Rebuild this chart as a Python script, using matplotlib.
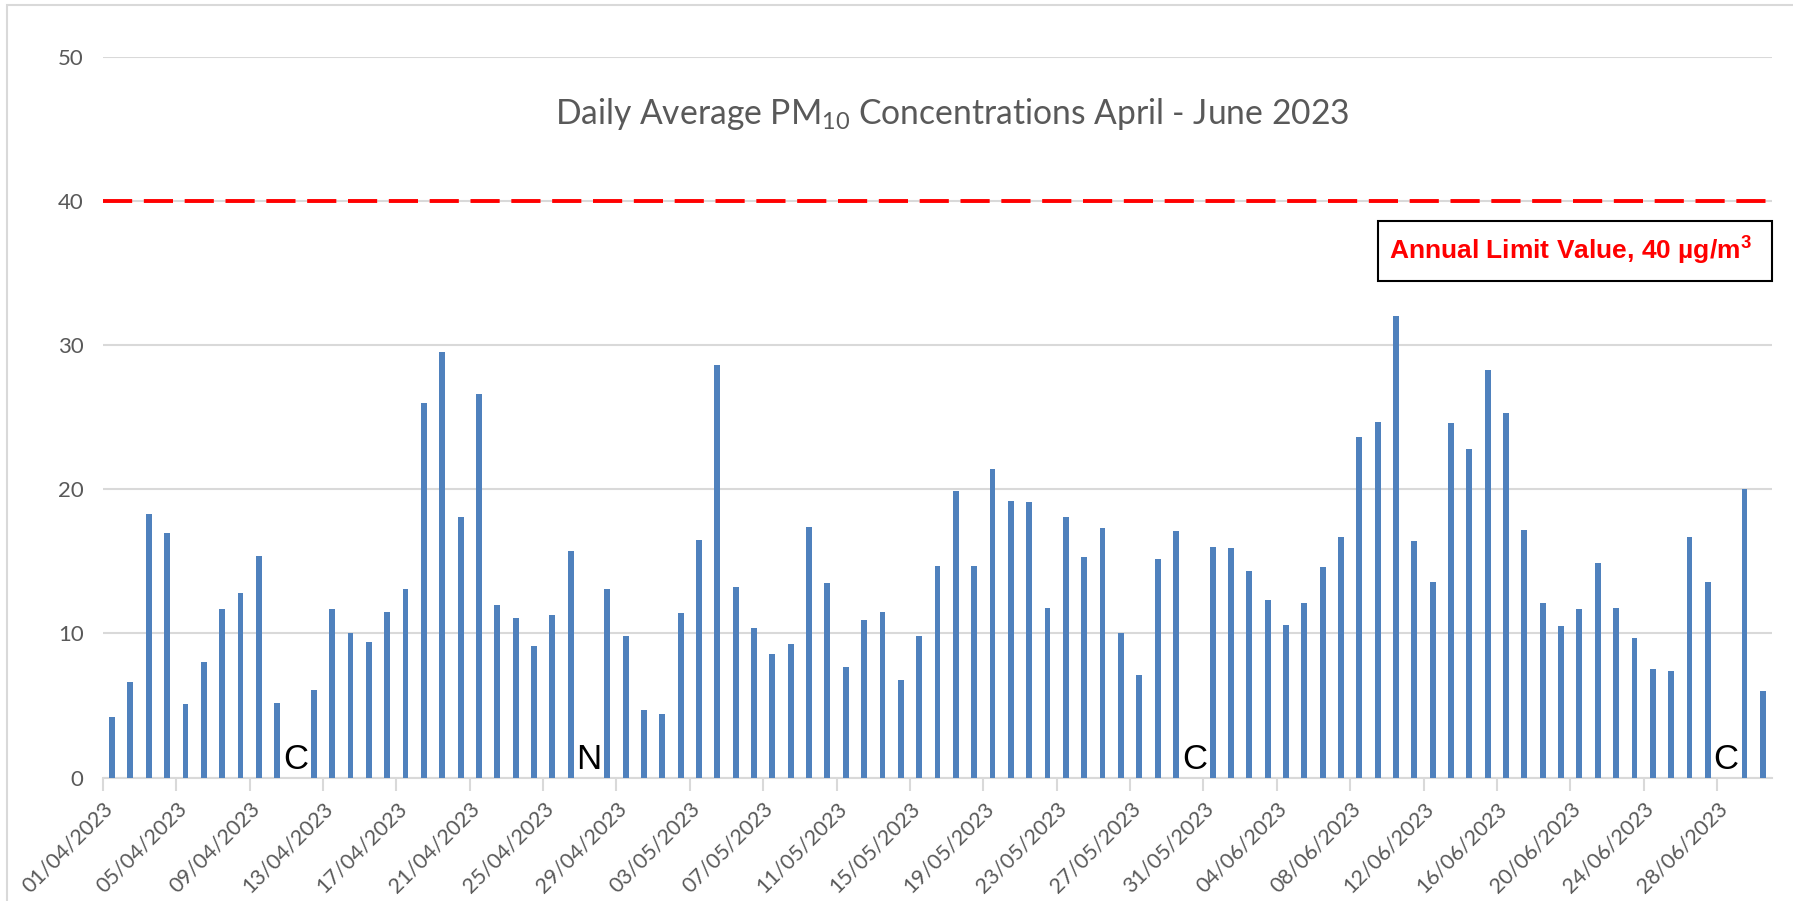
import numpy as np
import pandas as pd
import matplotlib.pyplot as plt
from matplotlib.patches import Rectangle

plt.rcParams['font.family'] = ['Lato', 'DejaVu Sans']
plt.rcParams['mathtext.default'] = 'regular'

# daily PM10, ug/m3 (None = no data)
dates = pd.date_range('2023-04-01', '2023-06-30')
pm10_apr = [4.2, 6.6, 18.3, 17.0, 5.1, 8.0, 11.7, 12.8, 15.4, 5.2,
            None, 6.1, 11.7, 10.0, 9.4, 11.5, 13.1, 26.0, 29.5, 18.1,
            26.6, 12.0, 11.1, 9.1, 11.3, 15.7, None, 13.1, 9.8, 4.7]
pm10_may = [4.4, 11.4, 16.5, 28.6, 13.2, 10.4, 8.6, 9.3, 17.4, 13.5,
            7.7, 10.9, 11.5, 6.8, 9.8, 14.7, 19.9, 14.7, 21.4, 19.2,
            19.1, 11.8, 18.1, 15.3, 17.3, 10.0, 7.1, 15.2, 17.1, None,
            16.0]
pm10_jun = [15.9, 14.3, 12.3, 10.6, 12.1, 14.6, 16.7, 23.6, 24.7, 32.0,
            16.4, 13.6, 24.6, 22.8, 28.3, 25.3, 17.2, 12.1, 10.5, 11.7,
            14.9, 11.8, 9.7, 7.5, 7.4, 16.7, 13.6, None, 20.0, 6.0]

# letters shown on days without a value
gap_dates = ['2023-04-11', '2023-04-27', '2023-05-30', '2023-06-28']
gap_letters = ['C', 'N', 'C', 'C']

limit_value = 40
title = 'Daily Average PM$_{10}$ Concentrations April - June 2023'
limit_label = 'Annual Limit Value, 40 µg/m$^{3}$'

pm10 = np.array([np.nan if v is None else v for v in pm10_apr + pm10_may + pm10_jun])
x = np.arange(len(dates))
ok = ~np.isnan(pm10)

fig = plt.figure(figsize=(17.93, 9.01), dpi=100)
ax = fig.add_axes([0.0574, 0.137, 0.9309, 0.7997])

ax.bar(x[ok], pm10[ok], width=0.32, color='#4f81bd', zorder=3)
ax.axhline(limit_value, color='red', lw=2.8, dashes=(7.5, 3), zorder=4)

for d, letter in zip(gap_dates, gap_letters):
    i = dates.get_loc(pd.Timestamp(d))
    ax.text(i, 0.1, letter, ha='center', va='bottom', fontsize=25,
            family='Liberation Sans', color='black', zorder=5)

ax.set_xlim(-0.5, len(dates) - 0.5)
ax.set_ylim(0, 50)
ax.set_yticks(np.arange(0, 51, 10))
ax.yaxis.grid(True, color='#d9d9d9', lw=1.5, zorder=0)

ax.set_xticks(x[::4] - 0.5)
ax.set_xticklabels(dates[::4].strftime('%d/%m/%Y'), rotation=45, ha='right',
                   va='top', rotation_mode='anchor')
ax.tick_params(axis='x', length=9, width=1.5, color='#d9d9d9', pad=6,
               labelsize=15.5, labelcolor='#595959')
ax.tick_params(axis='y', length=0, pad=14, labelsize=16, labelcolor='#595959')

for s in ['left', 'top', 'right']:
    ax.spines[s].set_visible(False)
ax.spines['bottom'].set_color('#d9d9d9')
ax.spines['bottom'].set_linewidth(1.5)

fig.text(0.531, 0.873, title, ha='center', va='center', fontsize=24.2,
         color='#595959')

# limit value label box
fig.patches.append(Rectangle((0.7686, 0.688), 0.2197, 0.0667, transform=fig.transFigure,
                             facecolor='white', edgecolor='black', lw=1.5, zorder=5))
fig.text(0.876, 0.7214, limit_label, ha='center', va='center', fontsize=19,
         fontweight='bold', color='red', family='Liberation Sans', zorder=6)

# chart area border
fig.patches.append(Rectangle((0.004, -0.05), 1.1, 1.044, transform=fig.transFigure,
                             fill=False, edgecolor='#d9d9d9', lw=1.5))

fig.savefig('out.png', dpi=100)
